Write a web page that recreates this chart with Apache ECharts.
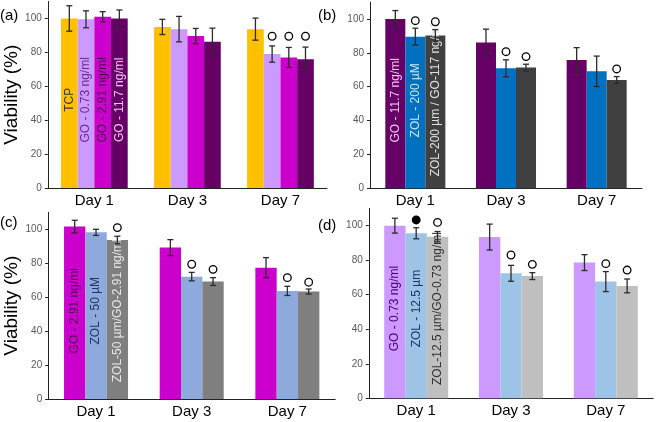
<!DOCTYPE html>
<html>
<head>
<meta charset="utf-8">
<script src="https://cdn.jsdelivr.net/npm/echarts@6/dist/echarts.min.js"></script>
<style>html,body{margin:0;padding:0;background:#fff;}#c{width:656px;height:422px;}</style>
</head>
<body>
<div id="c"></div>
<script>
// ---- data ----
const days = ['Day 1', 'Day 3', 'Day 7'];
const yTicks = [0, 20, 40, 60, 80, 100];

// panel (a)
const aNames = ['TCP', 'GO - 0.73 ng/ml', 'GO - 2.91 ng/ml', 'GO - 11.7 ng/ml'];
const aValues = [[100, 95, 93.7], [99.5, 93.7, 79], [101, 89.6, 77], [100, 86.3, 75.9]];
const aErrors = [[7.5, 4.5, 6.5], [5, 7.5, 4.8], [3, 4.5, 5.9], [5, 8, 7.2]];
const aOpenMarks = [[null, null, null], [null, null, 89.5], [null, null, 89.5], [null, null, 89.5]];
const aFilledMarks = [[null, null, null], [null, null, null], [null, null, null], [null, null, null]];

// panel (b)
const bNames = ['GO - 11.7 ng/ml', 'ZOL - 200 µM', 'ZOL-200 µm / GO-117 ng/ml'];
const bValues = [[100, 86.2, 75.8], [89.6, 70.9, 69.1], [90.2, 71.3, 64]];
const bErrors = [[5, 7.8, 7.3], [5, 5, 9], [3.5, 2, 2]];
const bOpenMarks = [[null, null, null], [99, 80.7, null], [98.4, 77.8, 70.5]];
const bFilledMarks = [[null, null, null], [null, null, null], [null, null, null]];

// panel (c)
const cNames = ['GO - 2.91 ng/ml', 'ZOL - 50 µM', 'ZOL-50 µm/GO-2.91 ng/ml'];
const cValues = [[101.6, 89.2, 77.4], [98.2, 72.1, 63.7], [93.7, 69.2, 63.3]];
const cErrors = [[3.7, 4.7, 5.9], [1.8, 2.5, 2.7], [2.2, 2.3, 1.5]];
const cOpenMarks = [[null, null, null], [null, 79.4, 71.5], [101, 76.4, 68.8]];
const cFilledMarks = [[null, null, null], [null, null, null], [null, null, null]];

// panel (d)
const dNames = ['GO - 0.73 ng/ml', 'ZOL - 12.5 µm', 'ZOL-12.5 µm/GO-0.73 ng/ml'];
const dValues = [[100, 93.4, 78.6], [95.6, 72.4, 67.6], [93.6, 70.8, 65.1]];
const dErrors = [[4.3, 7.5, 4.6], [3.2, 4.6, 5.8], [3, 2, 4]];
const dOpenMarks = [[null, null, null], [null, 83, 78], [101.9, 77.6, 74.3]];
const dFilledMarks = [[null, null, null], [103.3, null, null], [null, null, null]];

// ---- layout & style ----
const FONT = 'Liberation Sans, Arial, sans-serif';
const panels = [
  { tag: '(a)', names: aNames, values: aValues, errors: aErrors, open: aOpenMarks, filled: aFilledMarks,
    grid: { left: 47.8, top: 1.5, width: 279.2, height: 186.5 }, gap: 0.283, yName: true,
    colors: ['#FFC000', '#CC99FF', '#CC00CC', '#660066'],
    textColors: ['#333333', '#6a2c91', '#4b0050', '#f2c6f2'], tagPos: [0, 8] },
  { tag: '(b)', names: bNames, values: bValues, errors: bErrors, open: bOpenMarks, filled: bFilledMarks,
    grid: { left: 370, top: 2.1, width: 272, height: 186.2 }, gap: 0.338, yName: false,
    colors: ['#660066', '#0070C0', '#404040'],
    textColors: ['#f2c6f2', '#d0e4f5', '#e0e0e0'], tagPos: [318, 8] },
  { tag: '(c)', names: cNames, values: cValues, errors: cErrors, open: cOpenMarks, filled: cFilledMarks,
    grid: { left: 48.2, top: 212.3, width: 287, height: 186.7 }, gap: 0.331, yName: true,
    colors: ['#CC00CC', '#8EA9DB', '#7F7F7F'],
    textColors: ['#4b0050', '#1f3864', '#e8e8e8'], tagPos: [0, 215] },
  { tag: '(d)', names: dNames, values: dValues, errors: dErrors, open: dOpenMarks, filled: dFilledMarks,
    grid: { left: 368.8, top: 208.4, width: 284.4, height: 189.9 }, gap: 0.325, yName: false,
    colors: ['#CC99FF', '#9DC3E6', '#BFBFBF'],
    textColors: ['#4b0070', '#1f3864', '#333333'], tagPos: [318, 218] }
];

const grids = [], xAxes = [], yAxes = [], series = [], graphics = [];

panels.forEach((p, pi) => {
  grids.push(Object.assign({ containLabel: false }, p.grid));
  xAxes.push({
    type: 'category', gridIndex: pi, data: days,
    axisLine: { show: true, lineStyle: { color: '#222', width: 1 } },
    axisTick: { show: false },
    axisLabel: { fontSize: 15, color: '#000', fontFamily: FONT, margin: 5 }
  });
  yAxes.push({
    type: 'value', gridIndex: pi, min: 0, max: 110,
    splitLine: { show: false },
    axisLine: { show: true, lineStyle: { color: '#222', width: 1 } },
    axisTick: { show: true, length: 3, lineStyle: { color: '#222' }, customValues: yTicks },
    axisLabel: { fontSize: 10, color: '#595959', fontFamily: FONT, margin: 6, customValues: yTicks },
    name: p.yName ? 'Viability (%)' : '',
    nameLocation: 'middle', nameGap: 24, nameRotate: 90,
    nameTextStyle: { fontSize: 19, color: '#000', fontFamily: FONT }
  });
  const n = p.names.length;
  p.names.forEach((nm, k) => {
    series.push({
      type: 'bar', name: nm, xAxisIndex: pi, yAxisIndex: pi,
      barGap: '0%', barCategoryGap: (p.gap * 100) + '%',
      itemStyle: { color: p.colors[k] },
      silent: true,
      data: p.values[k].map((v, j) => j === 0 ? {
        value: v,
        label: {
          show: true, formatter: nm, rotate: 90,
          position: ['50%', ((1 - 52 / v) * 100) + '%'],
          align: 'center', verticalAlign: 'middle',
          fontSize: 12, fontFamily: FONT, color: p.textColors[k]
        }
      } : v)
    });
  });
  const errData = [];
  for (let k = 0; k < n; k++) {
    for (let c = 0; c < days.length; c++) {
      errData.push([c, k, p.values[k][c], p.errors[k][c],
        p.open[k][c] == null ? -1 : p.open[k][c],
        p.filled[k][c] == null ? -1 : p.filled[k][c]]);
    }
  }
  const gap = p.gap;
  series.push({
    type: 'custom', xAxisIndex: pi, yAxisIndex: pi, z: 5, silent: true,
    encode: { x: 0, y: 2 },
    data: errData,
    renderItem: function (params, api) {
      const c = api.value(0), k = api.value(1), v = api.value(2), e = api.value(3);
      const mo = api.value(4), mf = api.value(5);
      const base = api.coord([c, 0]);
      const band = api.size([1, 0])[0];
      const gw = band * (1 - gap);
      const bw = gw / n;
      const x = base[0] - gw / 2 + (k + 0.5) * bw;
      const yt = api.coord([c, v + e])[1];
      const yb = api.coord([c, v - e])[1];
      const cap = 3;
      const ls = { stroke: '#2b2b2b', lineWidth: 1.3 };
      const ch = [
        { type: 'line', shape: { x1: x, y1: yt, x2: x, y2: yb }, style: ls },
        { type: 'line', shape: { x1: x - cap, y1: yt, x2: x + cap, y2: yt }, style: ls },
        { type: 'line', shape: { x1: x - cap, y1: yb, x2: x + cap, y2: yb }, style: ls }
      ];
      if (mo >= 0) {
        ch.push({ type: 'circle', shape: { cx: x, cy: api.coord([c, mo])[1], r: 3.8 },
          style: { fill: '#fff', stroke: '#000', lineWidth: 1.3 } });
      }
      if (mf >= 0) {
        ch.push({ type: 'circle', shape: { cx: x, cy: api.coord([c, mf])[1], r: 3.8 },
          style: { fill: '#000', stroke: '#000', lineWidth: 1.3 } });
      }
      return { type: 'group', children: ch };
    }
  });
  graphics.push({
    type: 'text', left: p.tagPos[0], top: p.tagPos[1],
    style: { text: p.tag, fontSize: 15, fontFamily: FONT, fill: '#000' }
  });
});

const chart = echarts.init(document.getElementById('c'), null, { renderer: 'canvas' });
chart.setOption({
  animation: false,
  backgroundColor: '#fff',
  grid: grids, xAxis: xAxes, yAxis: yAxes, series: series, graphic: graphics
});
</script>
</body>
</html>
